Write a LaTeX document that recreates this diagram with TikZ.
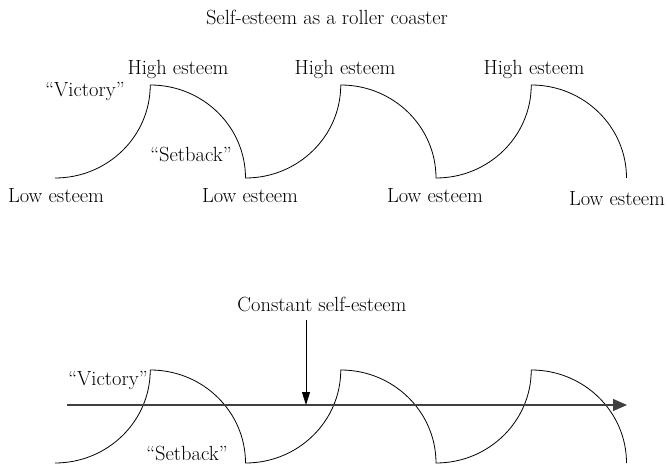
\documentclass[tikz,border=0pt]{standalone}
\usetikzlibrary{arrows.meta}

\tikzset{
  coaster/.style={line width=0.8pt},
  lbl/.style={font=\fontsize{20.5}{24}\selectfont, inner sep=0pt, anchor=base},
}

\begin{document}
\begin{tikzpicture}[x=1pt, y=1pt]
    \useasboundingbox (0,0) rectangle (667,464);

    % Title
    \node[lbl] (title) at (327, 439) {Self-esteem as a roller coaster};

    % Roller coaster curve
    \draw[coaster] (55,286)
      arc[start angle=270, end angle=360, x radius=95.25, y radius=93]
      arc[start angle=90, end angle=0, x radius=95.25, y radius=93]
      arc[start angle=270, end angle=360, x radius=95.25, y radius=93]
      arc[start angle=90, end angle=0, x radius=95.25, y radius=93]
      arc[start angle=270, end angle=360, x radius=95.25, y radius=93]
      arc[start angle=90, end angle=0, x radius=95.25, y radius=93];

    \node[lbl] (high1) at (178, 389) {High esteem};
    \node[lbl] (high2) at (345, 389) {High esteem};
    \node[lbl] (high3) at (534, 389) {High esteem};
    \node[lbl] (vict1) at (85, 367) {``Victory''};
    \node[lbl] (setb1) at (191, 302) {``Setback''};
    \node[lbl] (low1) at (56, 261) {Low esteem};
    \node[lbl] (low2) at (250, 261) {Low esteem};
    \node[lbl] (low3) at (435, 261) {Low esteem};
    \node[lbl] (low4) at (617, 258) {Low esteem};

    % Same curve, below
    \draw[coaster] (55,1)
      arc[start angle=270, end angle=360, x radius=95.25, y radius=93]
      arc[start angle=90, end angle=0, x radius=95.25, y radius=93]
      arc[start angle=270, end angle=360, x radius=95.25, y radius=93]
      arc[start angle=90, end angle=0, x radius=95.25, y radius=93]
      arc[start angle=270, end angle=360, x radius=95.25, y radius=93]
      arc[start angle=90, end angle=0, x radius=95.25, y radius=93];

    \node[lbl] (vict2) at (108, 79) {``Victory''};
    \node[lbl] (setb2) at (187, 4) {``Setback''};

    % Constant line
    \coordinate (axisL) at (67, 59);
    \coordinate (axisR) at (627, 59);
    \coordinate (hit) at (306, 59);
    \draw[line width=1.2pt, black!75, -{Triangle[length=14pt, width=12pt]}] (axisL) -- (axisR);

    \node[lbl] (const) at (322, 152) {Constant self-esteem};
    \draw[line width=0.8pt, -{Triangle[length=13pt, width=8pt]}] (306, 144) -- (hit);
  \end{tikzpicture}
\end{document}
